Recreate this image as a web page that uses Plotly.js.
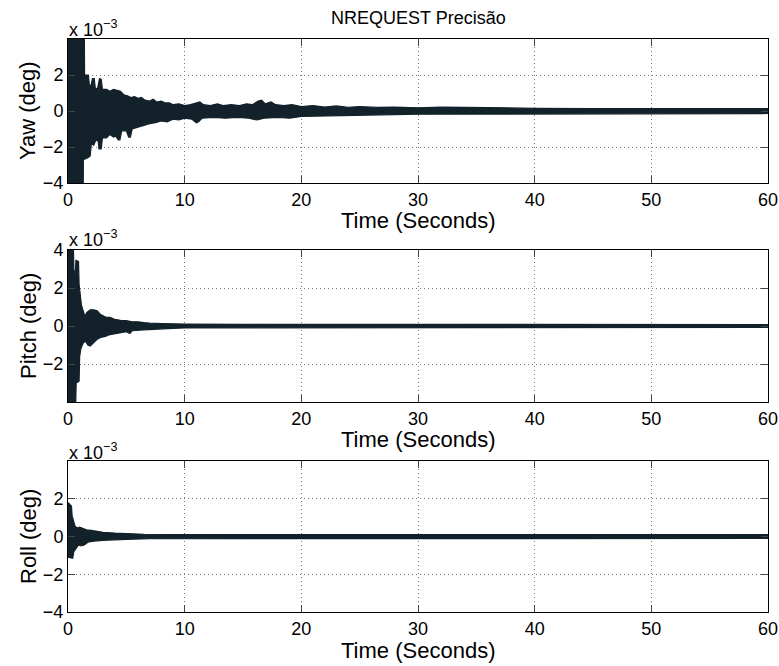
<!DOCTYPE html>
<html>
<head>
<meta charset="utf-8">
<script src="https://cdn.plot.ly/plotly-3.0.1.min.js"></script>
<style>html,body{margin:0;padding:0;background:#fff;}#chart{width:779px;height:666px;}</style>
</head>
<body>
<div id="chart"></div>
<script>
const yawUpT = [0, 1.4, 1.42, 1.75, 1.85, 2.0, 2.1, 2.25, 2.35, 2.55, 2.7, 2.85, 2.95, 3.3, 3.6, 3.9, 4.2, 4.5, 4.8, 5.1, 5.4, 5.7, 6.0, 6.3, 6.6, 7.0, 7.3, 7.6, 8.0, 8.3, 8.7, 9.0, 9.5, 10, 10.5, 11, 11.3, 11.6, 12.2, 12.8, 13.3, 14, 14.7, 15.3, 15.8, 16.3, 16.6, 16.9, 17.4, 17.8, 18.5, 19.2, 20, 21, 22, 23, 24, 25, 26.5, 28, 30, 32, 34, 36, 40, 45, 50, 55, 60];
const yawUp  = [4.5, 4.5, 2.0, 2.0, 1.3, 1.5, 1.8, 1.8, 1.2, 1.3, 1.8, 1.75, 1.2, 1.2, 1.1, 1.2, 1.15, 1.1, 0.9, 0.85, 0.75, 0.8, 0.7, 0.75, 0.6, 0.55, 0.65, 0.5, 0.55, 0.45, 0.45, 0.35, 0.4, 0.3, 0.35, 0.45, 0.5, 0.35, 0.3, 0.4, 0.3, 0.35, 0.3, 0.4, 0.35, 0.55, 0.6, 0.4, 0.5, 0.35, 0.3, 0.35, 0.25, 0.3, 0.22, 0.28, 0.2, 0.25, 0.2, 0.22, 0.18, 0.22, 0.2, 0.15, 0.15, 0.14, 0.14, 0.14, 0.14];
const yawLoT = [0, 1.3, 1.32, 1.7, 1.9, 2.0, 2.2, 2.4, 2.6, 2.65, 2.85, 2.95, 3.3, 3.6, 3.9, 4.1, 4.3, 4.45, 4.6, 5.0, 5.2, 5.35, 5.5, 6.0, 6.5, 7.0, 7.5, 8.0, 8.5, 9.0, 9.5, 10, 10.6, 11.0, 11.2, 11.5, 12.5, 13.5, 14.5, 15.5, 16.2, 16.8, 18, 19, 20, 22, 24, 26, 28, 30, 34, 38, 45, 60];
const yawLo  = [-4.5, -4.5, -2.7, -2.6, -2.5, -1.8, -1.9, -1.6, -1.7, -2.1, -2.1, -1.5, -1.5, -1.3, -1.45, -1.4, -1.6, -1.6, -1.1, -1.1, -1.45, -1.45, -1.0, -0.9, -0.8, -0.7, -0.65, -0.55, -0.6, -0.45, -0.5, -0.4, -0.45, -0.65, -0.6, -0.4, -0.35, -0.4, -0.35, -0.4, -0.5, -0.4, -0.35, -0.4, -0.3, -0.3, -0.25, -0.22, -0.2, -0.18, -0.18, -0.15, -0.14, -0.14];

const pitchUpT = [0, 0.45, 0.5, 0.62, 0.68, 0.9, 0.95, 1.05, 1.15, 1.3, 1.45, 1.6, 1.9, 2.2, 2.5, 2.8, 3.0, 3.3, 3.6, 4.0, 4.5, 5.0, 5.5, 6.0, 6.5, 7.0, 8.0, 9.0, 10, 15, 20, 30, 60];
const pitchUp  = [4.5, 4.5, 3.0, 2.6, 3.45, 3.4, 2.2, 1.6, 1.1, 0.8, 0.5, 0.7, 0.85, 0.85, 0.8, 0.6, 0.55, 0.45, 0.45, 0.35, 0.3, 0.28, 0.22, 0.22, 0.18, 0.15, 0.13, 0.12, 0.1, 0.09, 0.09, 0.08, 0.08];
const pitchLoT = [0, 0.65, 0.7, 0.95, 1.0, 1.1, 1.3, 1.5, 1.7, 1.9, 2.2, 2.5, 2.8, 3.2, 3.6, 4.0, 4.5, 5.0, 5.3, 5.5, 6.5, 7.5, 9.0, 10, 20, 30, 60];
const pitchLo  = [-4.5, -4.5, -3.0, -2.9, -1.6, -1.2, -0.9, -0.8, -1.0, -1.05, -0.9, -0.7, -0.6, -0.55, -0.45, -0.4, -0.35, -0.3, -0.4, -0.25, -0.2, -0.15, -0.12, -0.1, -0.09, -0.08, -0.08];

const rollUpT = [0, 0.3, 0.35, 0.45, 0.6, 0.8, 1.0, 1.3, 1.6, 2.0, 2.5, 3.0, 4.0, 5.0, 6.5, 10, 60];
const rollUp  = [1.8, 1.6, 1.1, 0.9, 0.55, 0.45, 0.5, 0.42, 0.35, 0.32, 0.28, 0.22, 0.18, 0.15, 0.12, 0.1, 0.1];
const rollLoT = [0, 0.4, 0.5, 0.7, 0.9, 1.1, 1.4, 1.7, 2.2, 3.0, 4.0, 5.0, 7.0, 10, 60];
const rollLo  = [-1.1, -1.15, -0.8, -0.6, -0.45, -0.5, -0.45, -0.3, -0.25, -0.2, -0.17, -0.15, -0.12, -0.1, -0.1];

const xTicks = [0, 10, 20, 30, 40, 50, 60];
const yTicks = [-4, -2, 0, 2, 4];
const yawTickText   = ['\u22124', '\u22122', '0', '2', ''];
const pitchTickText = ['', '\u22122', '0', '2', '4'];
const rollTickText  = ['\u22124', '\u22122', '0', '2', ''];
const yLabels = ['Yaw (deg)', 'Pitch (deg)', 'Roll (deg)'];
const xLabel = 'Time (Seconds)';
const titleText = 'NREQUEST Precis\u00e3o';

const col = '#12212a';
function band(upT, up, loT, lo, xa, ya) {
  return {
    x: upT.concat(loT.slice().reverse()),
    y: up.concat(lo.slice().reverse()),
    xaxis: xa, yaxis: ya, type: 'scatter', mode: 'lines',
    fill: 'toself', fillcolor: col,
    line: {color: col, width: 1.2},
    hoverinfo: 'skip', showlegend: false
  };
}
const data = [
  band(yawUpT, yawUp, yawLoT, yawLo, 'x', 'y'),
  band(pitchUpT, pitchUp, pitchLoT, pitchLo, 'x2', 'y2'),
  band(rollUpT, rollUp, rollLoT, rollLo, 'x3', 'y3')
];

const W = 779, H = 666;
const xDom = [68 / W, 768 / W];
const doms = [[1 - 183 / H, 1 - 39 / H], [1 - 402 / H, 1 - 250 / H], [1 - 612 / H, 1 - 461 / H]];
const font = {family: 'Liberation Sans, Arial, sans-serif', color: '#000'};

function xAx(anchor) {
  return {
    domain: xDom, anchor: anchor, range: [0, 60], tickvals: xTicks,
    ticks: 'inside', ticklen: 7, tickcolor: '#444', tickwidth: 1,
    showline: true, linecolor: '#000', linewidth: 1, mirror: 'ticks',
    showgrid: true, gridcolor: '#777', griddash: '1px,3px', gridwidth: 1,
    zeroline: false, tickfont: Object.assign({size: 18}, font), fixedrange: true
  };
}
function yAx(anchor, dom, tt) {
  return {
    domain: dom, anchor: anchor, range: [-4, 4], tickvals: yTicks, ticktext: tt,
    ticks: 'inside', ticklen: 7, tickcolor: '#444', tickwidth: 1,
    showline: true, linecolor: '#000', linewidth: 1, mirror: 'ticks',
    showgrid: true, gridcolor: '#777', griddash: '1px,3px', gridwidth: 1,
    zeroline: false, tickfont: Object.assign({size: 18}, font), fixedrange: true
  };
}

const annotations = [];
const xMid = (xDom[0] + xDom[1]) / 2;
annotations.push({text: titleText, xref: 'paper', yref: 'paper', x: xMid, y: 1 - 18 / H,
  xanchor: 'center', yanchor: 'middle', showarrow: false, font: Object.assign({size: 18}, font)});
const xTitleY = [220, 439, 650];
const yTitleY = [111, 326, 537];
const mulY = [28, 238, 451];
for (let i = 0; i < 3; i++) {
  annotations.push({text: xLabel, xref: 'paper', yref: 'paper', x: xMid, y: 1 - xTitleY[i] / H,
    xanchor: 'center', yanchor: 'middle', showarrow: false, font: Object.assign({size: 22}, font)});
  annotations.push({text: yLabels[i], xref: 'paper', yref: 'paper', x: 28 / W, y: 1 - yTitleY[i] / H,
    xanchor: 'center', yanchor: 'middle', textangle: -90, showarrow: false, font: Object.assign({size: 22}, font)});
  annotations.push({text: 'x 10<sup>\u22123</sup>', xref: 'paper', yref: 'paper', x: 67 / W, y: 1 - mulY[i] / H,
    xanchor: 'left', yanchor: 'middle', showarrow: false, font: Object.assign({size: 18}, font)});
}

const layout = {
  width: W, height: H, margin: {l: 0, r: 0, t: 0, b: 0},
  paper_bgcolor: '#fff', plot_bgcolor: '#fff', showlegend: false,
  font: font,
  xaxis: xAx('y'), yaxis: yAx('x', doms[0], yawTickText),
  xaxis2: xAx('y2'), yaxis2: yAx('x2', doms[1], pitchTickText),
  xaxis3: xAx('y3'), yaxis3: yAx('x3', doms[2], rollTickText),
  annotations: annotations
};
Plotly.newPlot('chart', data, layout, {displayModeBar: false, staticPlot: true});
</script>
</body>
</html>
